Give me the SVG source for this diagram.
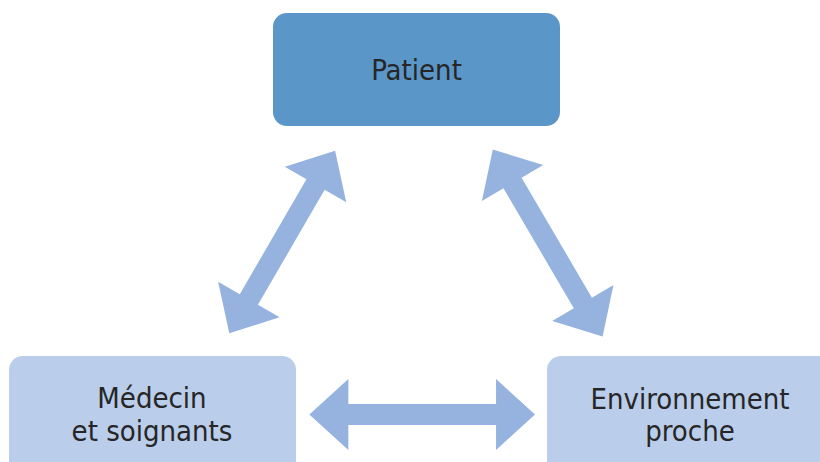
<svg xmlns="http://www.w3.org/2000/svg" width="820" height="462" viewBox="0 0 820 462">
  <style>
    .lbl { font-family: "DejaVu Sans Condensed", "DejaVu Sans", sans-serif; font-stretch: condensed; font-size: 29px; fill: #262626; text-anchor: middle; }
    .arrow { fill: #95B3DE; }
    .light { fill: #BACDEA; }
  </style>
  <rect width="820" height="462" fill="#FFFFFF"/>
  <g id="patient">
    <rect x="273" y="13" width="287" height="113" rx="14" ry="14" fill="#5B96C8"/>
    <text class="lbl" x="416.5" y="79.5">Patient</text>
  </g>
  <g id="medecin">
    <rect class="light" x="9" y="356" width="287" height="120" rx="14" ry="14"/>
    <text class="lbl" x="152" y="408.3">Médecin</text>
    <text class="lbl" x="152" y="441">et soignants</text>
  </g>
  <g id="environnement">
    <rect class="light" x="547" y="356" width="287" height="120" rx="14" ry="14"/>
    <text class="lbl" x="690" y="409.3">Environnement</text>
    <text class="lbl" x="690" y="441">proche</text>
  </g>
  <g id="connectors">
    <path class="arrow" transform="translate(422.2 414.5)" d="M -112.85 0 L -73.85 -35.5 L -73.85 -10.5 L 73.85 -10.5 L 73.85 -35.5 L 112.85 0 L 73.85 35.5 L 73.85 10.5 L -73.85 10.5 L -73.85 35.5 Z"/>
    <path class="arrow" transform="translate(282.2 242) rotate(-59.9)" d="M -105.5 0 L -66.5 -35.5 L -66.5 -10.5 L 66.5 -10.5 L 66.5 -35.5 L 105.5 0 L 66.5 35.5 L 66.5 10.5 L -66.5 10.5 L -66.5 35.5 Z"/>
    <path class="arrow" transform="translate(547.7 243) rotate(59.6)" d="M -108.5 0 L -69.5 -35.5 L -69.5 -10.5 L 69.5 -10.5 L 69.5 -35.5 L 108.5 0 L 69.5 35.5 L 69.5 10.5 L -69.5 10.5 L -69.5 35.5 Z"/>
  </g>
</svg>
